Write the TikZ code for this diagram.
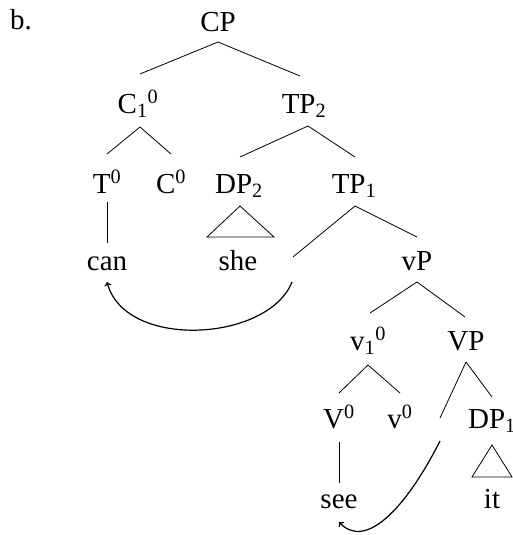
\documentclass[tikz,border=0pt]{standalone}
\usepackage{fontspec}
\setmainfont{Liberation Serif}
\usetikzlibrary{arrows.meta}
\begin{document}
\begin{tikzpicture}[x=1pt,y=-1pt,
  lab/.style={anchor=base,inner sep=0pt,font=\fontsize{29}{33}\selectfont},
  br/.style={line width=0.8pt},
  mv/.style={line width=1.2pt,-{To[length=4pt,width=7pt]}}]
\useasboundingbox (0,0) rectangle (513,535);
\node[lab,anchor=base west] (b) at (10,30) {b.};
\node[lab] (CP) at (218,32) {CP};
\node[lab] (C1) at (138,113) {C\textsubscript{1}\textsuperscript{0}};
\node[lab] (TP2) at (304,113) {TP\textsubscript{2}};
\node[lab] (T0) at (107,193) {T\textsuperscript{0}};
\node[lab] (C0) at (171,193) {C\textsuperscript{0}};
\node[lab] (DP2) at (239,193) {DP\textsubscript{2}};
\node[lab] (TP1) at (354,193) {TP\textsubscript{1}};
\node[lab] (can) at (107,270) {can};
\node[lab] (she) at (238,270) {she};
\node[lab] (vP) at (417,270) {vP};
\node[lab] (v1) at (368,350) {v\textsubscript{1}\textsuperscript{0}};
\node[lab] (VP) at (466,350) {VP};
\node[lab] (V0) at (339,428) {V\textsuperscript{0}};
\node[lab] (v0) at (400,428) {v\textsuperscript{0}};
\node[lab] (DP1) at (492,428) {DP\textsubscript{1}};
\node[lab] (see) at (339,508) {see};
\node[lab] (it) at (492,508) {it};
\coordinate (t2) at (293,257);
\coordinate (t1) at (440,418);
\coordinate (a2) at (292,282);
\coordinate (a1) at (440,441);
% branches
\draw[br] ([yshift=-10pt]CP.base) -- ([yshift=39pt,xshift=2pt]C1.base);
\draw[br] ([yshift=-10pt]CP.base) -- ([yshift=37pt,xshift=-4pt]TP2.base);
\draw[br] ([yshift=-14pt,xshift=2pt]C1.base) -- ([yshift=39pt]T0.base);
\draw[br] ([yshift=-14pt,xshift=2pt]C1.base) -- ([yshift=39pt]C0.base);
\draw[br] ([yshift=-13pt,xshift=4pt]TP2.base) -- ([yshift=36pt,xshift=1pt]DP2.base);
\draw[br] ([yshift=-13pt,xshift=4pt]TP2.base) -- ([yshift=36pt,xshift=1pt]TP1.base);
\draw[br] ([yshift=-9pt]T0.base) -- ([yshift=27pt]can.base);
\draw[br] ([yshift=-13pt,xshift=1pt]TP1.base) -- (t2);
\draw[br] ([yshift=-13pt,xshift=1pt]TP1.base) -- ([yshift=33pt]vP.base);
\draw[br] ([yshift=-12pt]vP.base) -- ([yshift=37pt,xshift=2pt]v1.base);
\draw[br] ([yshift=-12pt]vP.base) -- ([yshift=33pt,xshift=-1pt]VP.base);
\draw[br] ([yshift=-15pt]v1.base) -- ([yshift=35pt]V0.base);
\draw[br] ([yshift=-15pt]v1.base) -- ([yshift=35pt]v0.base);
\draw[br] ([yshift=-12pt]VP.base) -- (t1);
\draw[br] ([yshift=-12pt]VP.base) -- ([yshift=31pt]DP1.base);
\draw[br] ([yshift=-14pt]V0.base) -- ([yshift=25pt]see.base);
% triangles
\draw[br] ([yshift=-13pt,xshift=1pt]DP2.base) -- ++(-33,31) -- ++(67,0) -- cycle;
\draw[br] ([yshift=-17pt]DP1.base) -- ++(-20,32) -- ++(40,0) -- cycle;
% movement arrows
\draw[mv] (a2) .. controls (268,342) and (125,350) .. ([yshift=-12pt]can.base);
\draw[mv] (a1) .. controls (405,510) and (365,550) .. ([yshift=-14pt]see.base);
\end{tikzpicture}
\end{document}
